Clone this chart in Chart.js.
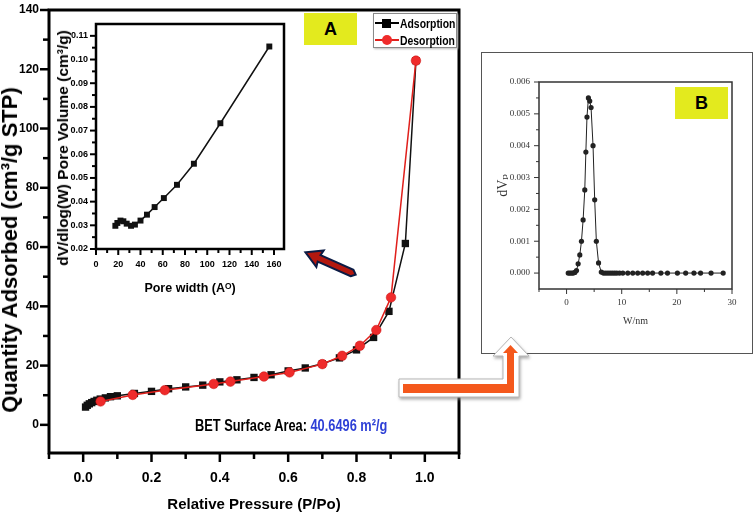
<!DOCTYPE html>
<html>
<head>
<meta charset="utf-8">
<script src="https://cdn.jsdelivr.net/npm/chart.js@4.4.1/dist/chart.umd.min.js"></script>
<style>
  body { margin: 0; background: #fff; }
  #wrap { position: relative; width: 756px; height: 517px; overflow: hidden; background: #fff;
          font-family: "Liberation Sans", Arial, sans-serif; }
  canvas { position: absolute; }
  .vtitle { position: absolute; white-space: nowrap; font-weight: bold; transform: translate(-50%, -50%) rotate(-90deg); }
  #legend { position: absolute; left: 373px; top: 13px; width: 84px; height: 35px; border: 1px solid #8a8a8a;
            box-shadow: 1px 1px 2px #bbb; background: #fff; box-sizing: border-box; }
  #legend .row { position: absolute; left: 1px; height: 14px; display: flex; align-items: center;
                 font-weight: bold; font-size: 13px; white-space: nowrap; }
  #legend .row span { display: inline-block; transform: scaleX(0.8); transform-origin: left center; }
  #legend svg { margin-right: 1px; }
  .tag { position: absolute; width: 53px; height: 32px; background: #e3ea1e;
         font-weight: bold; font-size: 18px; text-align: center; line-height: 32px; }
  #bet { position: absolute; left: 195px; top: 417px; font-weight: bold; font-size: 16px; white-space: nowrap;
         transform: scaleX(0.8); transform-origin: left center; }
  #bet span { color: #2d3fd6; }
  #boxB { position: absolute; left: 481px; top: 52px; width: 272px; height: 302px; border: 1.5px solid #555; box-sizing: border-box; }
  #arrows { position: absolute; left: 0; top: 0; }
</style>
</head>
<body>
<div id="wrap">
  <div id="boxB"></div>
  <canvas id="main" width="470" height="517" style="left:0;top:0"></canvas>
  <canvas id="insetA" width="240" height="290" style="left:52px;top:14px"></canvas>
  <canvas id="insetB" width="266" height="298" style="left:484px;top:54px"></canvas>

  <div class="vtitle" style="left:10px;top:250px;font-size:22px">Quantity Adsorbed (cm³/g STP)</div>
  <div class="vtitle" style="left:63px;top:148px;font-size:15.5px">dV/dlog(W) Pore Volume (cm³/g)</div>

  <div id="legend">
    <div class="row" style="top:2px"><svg width="24" height="12"><line x1="0" y1="6" x2="24" y2="6" stroke="#000" stroke-width="2"/><rect x="7" y="2" width="9" height="9" fill="#000"/></svg><span>Adsorption</span></div>
    <div class="row" style="top:19px"><svg width="24" height="12"><line x1="0" y1="6" x2="24" y2="6" stroke="#e0201c" stroke-width="2"/><circle cx="12" cy="6" r="5" fill="#ef2b2b"/></svg><span>Desorption</span></div>
  </div>
  <div class="tag" style="left:304px;top:13px">A</div>
  <div class="tag" style="left:675px;top:87px">B</div>
  <div id="bet">BET Surface Area: <span>40.6496 m²/g</span></div>

  <svg id="arrows" width="756" height="517">
    <defs>
      <filter id="sh" x="-20%" y="-20%" width="140%" height="140%">
        <feDropShadow dx="1" dy="2" stdDeviation="1.5" flood-color="#888" flood-opacity="0.7"/>
      </filter>
    </defs>
    <g transform="translate(352,273) rotate(204)">
      <polygon points="0,-3.5 -4,0 0,3.5 36,3.5 35,9 51,0 35,-9 36,-3.5" fill="#b3180f" stroke="#0b1b44" stroke-width="2" stroke-linejoin="miter"/>
    </g>
    <polygon points="399,379 503,379 503,356 493,356 511,337 529,356 519,356 519,397 399,397" fill="#fff" stroke="#b5b5b5" stroke-width="1" filter="url(#sh)"/>
    <rect x="403" y="384" width="111" height="9" fill="#f4581c"/>
    <rect x="507" y="352" width="7" height="41" fill="#f4581c"/>
    <polygon points="503,353 510.5,345 518,353" fill="#f4581c"/>
  </svg>
</div>

<script>
// main isotherm
const adsP = [0.007, 0.012, 0.018, 0.025, 0.032, 0.04, 0.05, 0.065, 0.08, 0.1, 0.15, 0.2, 0.25, 0.3, 0.35, 0.4, 0.45, 0.5, 0.55, 0.6, 0.65, 0.7, 0.75, 0.8, 0.85, 0.895, 0.943, 0.974];
const adsQ = [6.0, 6.6, 7.1, 7.5, 7.9, 8.3, 8.7, 9.1, 9.5, 9.8, 10.6, 11.3, 12.2, 12.8, 13.4, 14.5, 15.2, 16.0, 16.9, 18.2, 19.2, 20.6, 22.6, 25.3, 29.5, 38.3, 61.2, 122.9];
const desP = [0.051, 0.145, 0.239, 0.382, 0.431, 0.529, 0.604, 0.70, 0.758, 0.81, 0.858, 0.901, 0.974];
const desQ = [7.9, 10.1, 11.7, 13.8, 14.6, 16.3, 17.7, 20.5, 23.3, 26.7, 32.0, 43.0, 122.9];
const xTickLabels = ["0.0", "0.2", "0.4", "0.6", "0.8", "1.0"];
const yTickLabels = ["0", "20", "40", "60", "80", "100", "120", "140"];

// inset A - pore size distribution
const poreW = [17.4, 19.2, 22.0, 24.6, 27.6, 31.5, 35.0, 40.0, 45.8, 52.7, 61.0, 72.8, 88.0, 111.8, 155.8];
const poreV = [0.0298, 0.0310, 0.0320, 0.0317, 0.0307, 0.0298, 0.0303, 0.0320, 0.0345, 0.0377, 0.0415, 0.0471, 0.0560, 0.0731, 0.1055];
const aXTickLabels = ["0", "20", "40", "60", "80", "100", "120", "140", "160"];
const aYTickLabels = ["0.02", "0.03", "0.04", "0.05", "0.06", "0.07", "0.08", "0.09", "0.10", "0.11"];

// inset B
const bW = [0.3, 0.6, 0.9, 1.2, 1.5, 1.8, 2.1, 2.4, 2.7, 3.0, 3.3, 3.5, 3.7, 3.96, 4.2, 4.44, 4.8, 5.1, 5.4, 5.8, 6.3, 6.7, 7.1, 7.5, 7.9, 8.3, 8.7, 9.1, 9.6, 10.2, 11.1, 12.0, 12.9, 13.8, 14.7, 15.6, 17.1, 18.3, 20.1, 21.6, 23.1, 24.3, 26.2, 28.4];
const bV = [0, 0, 0, 0, 0.00002, 0.00008, 0.00029, 0.00057, 0.0010, 0.00167, 0.00261, 0.0038, 0.0049, 0.0055, 0.0054, 0.0052, 0.0040, 0.0023, 0.0010, 0.00032, 0.00003, 0, 0, 0, 0, 0, 0, 0, 0, 0, 0, 0, 0, 0, 0, 0, 0, 0, 0, 0, 0, 0, 0, 0];
const bXTickLabels = ["0", "10", "20", "30"];
const bYTickLabels = ["0.000", "0.001", "0.002", "0.003", "0.004", "0.005", "0.006"];

const sans = '"Liberation Sans", Arial, sans-serif';
const serif = '"Liberation Serif", "DejaVu Serif", serif';

// tick values from a to b in steps of s
const range = (a, b, s) => {
    const n = Math.round((b - a) / s);
    const out = [];
    for (let i = 0; i <= n; i++) out.push(+(a + i * s).toFixed(6));
    return out;
};

// draws the box frame and the outward major/minor ticks
const frame = {
    id: "frame",
    afterDraw(chart, args, opts) {
        const { ctx, chartArea: a, scales } = chart;
        ctx.save();
        ctx.strokeStyle = opts.color;
        ctx.lineWidth = opts.tickWidth;
        scales.x.ticks.forEach((t) => {
            const px = scales.x.getPixelForValue(t.value);
            if (px < a.left - 1 || px > a.right + 1) return;
            const len = t.label !== "" ? opts.major : opts.minor;
            ctx.beginPath(); ctx.moveTo(px, a.bottom); ctx.lineTo(px, a.bottom + len); ctx.stroke();
        });
        scales.y.ticks.forEach((t) => {
            const py = scales.y.getPixelForValue(t.value);
            if (py < a.top - 1 || py > a.bottom + 1) return;
            const len = t.label !== "" ? opts.major : opts.minor;
            ctx.beginPath(); ctx.moveTo(a.left - len, py); ctx.lineTo(a.left, py); ctx.stroke();
        });
        ctx.lineWidth = opts.width;
        ctx.strokeRect(a.left, a.top, a.right - a.left, a.bottom - a.top);
        ctx.restore();
    }
};

function axis(min, max, tickVals, labels, o) {
    return {
        type: "linear", min: min, max: max,
        afterBuildTicks: (s) => { s.ticks = tickVals.map((v) => ({ value: v })); },
        afterFit: o.fit,
        grid: { display: true, drawOnChartArea: false, tickLength: o.tickLength, tickColor: "rgba(0,0,0,0)" },
        border: { display: false },
        ticks: {
            autoSkip: false, maxRotation: 0, color: o.color || "#000", padding: o.padding,
            font: { family: o.family, size: o.size, weight: o.weight || "bold" },
            callback: (v) => labels.find((l) => Math.abs(Number(l) - v) < 1e-9) || ""
        },
        title: o.title || { display: false }
    };
}

// ---------- main chart ----------
new Chart(document.getElementById("main"), {
    type: "line",
    data: {
        datasets: [
            {
                label: "Desorption",
                data: desP.map((p, i) => ({ x: p, y: desQ[i] })),
                borderColor: "#e0201c", backgroundColor: "#ef2b2b", borderWidth: 1.5,
                pointStyle: "circle", pointRadius: 4.8, pointBorderWidth: 0.5, pointBorderColor: "#c81010"
            },
            {
                label: "Adsorption",
                data: adsP.map((p, i) => ({ x: p, y: adsQ[i] })),
                borderColor: "#111", backgroundColor: "#111", borderWidth: 1.5,
                pointStyle: "rect", pointRadius: 5.2, pointBorderWidth: 0
            }
        ]
    },
    options: {
        responsive: false, animation: false,
        layout: { padding: { top: 10, right: 11, left: 0, bottom: 0 } },
        elements: { line: { tension: 0 } },
        plugins: {
            legend: { display: false }, tooltip: { enabled: false },
            frame: { color: "#000", width: 3, tickWidth: 2.5, major: 9, minor: 6 }
        },
        scales: {
            x: axis(-0.1, 1.1, range(-0.1, 1.1, 0.1), xTickLabels, {
                family: sans, size: 14, tickLength: 9, padding: 8,
                fit: (s) => { s.height = 64; },
                title: { display: true, text: "Relative Pressure (P/Po)", color: "#000",
                         font: { family: sans, size: 15, weight: "bold" }, padding: { top: 0, bottom: 3 } }
            }),
            y: axis(-9.5, 140, range(0, 140, 10), yTickLabels, {
                family: sans, size: 12, tickLength: 9, padding: 1,
                fit: (s) => { s.width = 49; }
            })
        }
    },
    plugins: [frame]
});

// ---------- inset A ----------
new Chart(document.getElementById("insetA"), {
    type: "line",
    data: {
        datasets: [{
            data: poreW.map((w, i) => ({ x: w, y: poreV[i] })),
            borderColor: "#111", backgroundColor: "#111", borderWidth: 1.5,
            pointStyle: "rect", pointRadius: 4.2, pointBorderWidth: 0
        }]
    },
    options: {
        responsive: false, animation: false,
        layout: { padding: { top: 10, right: 8, left: 0, bottom: 0 } },
        elements: { line: { tension: 0 } },
        plugins: {
            legend: { display: false }, tooltip: { enabled: false },
            frame: { color: "#000", width: 2.5, tickWidth: 2, major: 6, minor: 4 }
        },
        scales: {
            x: axis(0, 169, range(0, 160, 10), aXTickLabels, {
                family: sans, size: 9, tickLength: 6, padding: 4,
                fit: (s) => { s.height = 55; },
                title: { display: true, text: "Pore width (Aᴼ)", color: "#000",
                         font: { family: sans, size: 12.5, weight: "bold" }, padding: { top: 0, bottom: 8 } }
            }),
            y: axis(0.02, 0.115, range(0.02, 0.11, 0.005), aYTickLabels, {
                family: sans, size: 9, tickLength: 6, padding: 2,
                fit: (s) => { s.width = 44; }
            })
        }
    },
    plugins: [frame]
});

// ---------- inset B ----------
new Chart(document.getElementById("insetB"), {
    type: "line",
    data: {
        datasets: [{
            data: bW.map((w, i) => ({ x: w, y: bV[i] })),
            borderColor: "#222", backgroundColor: "#222", borderWidth: 1,
            pointStyle: "circle", pointRadius: 2.6, pointBorderWidth: 0
        }]
    },
    options: {
        responsive: false, animation: false,
        layout: { padding: { top: 28, right: 18, left: 0, bottom: 0 } },
        elements: { line: { tension: 0 } },
        plugins: {
            legend: { display: false }, tooltip: { enabled: false },
            frame: { color: "#333", width: 1.5, tickWidth: 1, major: 5, minor: 3 }
        },
        scales: {
            x: axis(-5, 30, range(-5, 30, 5), bXTickLabels, {
                family: serif, size: 9, weight: "normal", color: "#333", tickLength: 5, padding: 3,
                fit: (s) => { s.height = 63; },
                title: { display: true, text: "W/nm", color: "#333",
                         font: { family: serif, size: 10 }, padding: { top: 0, bottom: 25 } }
            }),
            y: axis(-0.0005, 0.006, range(0, 0.006, 0.0005), bYTickLabels, {
                family: serif, size: 9, weight: "normal", color: "#333", tickLength: 5, padding: 4,
                fit: (s) => { s.width = 55; },
                title: { display: true, text: "dVₚ", color: "#333",
                         font: { family: serif, size: 14, lineHeight: 1 }, padding: { top: 12 } }
            })
        }
    },
    plugins: [frame]
});
</script>
</body>
</html>
